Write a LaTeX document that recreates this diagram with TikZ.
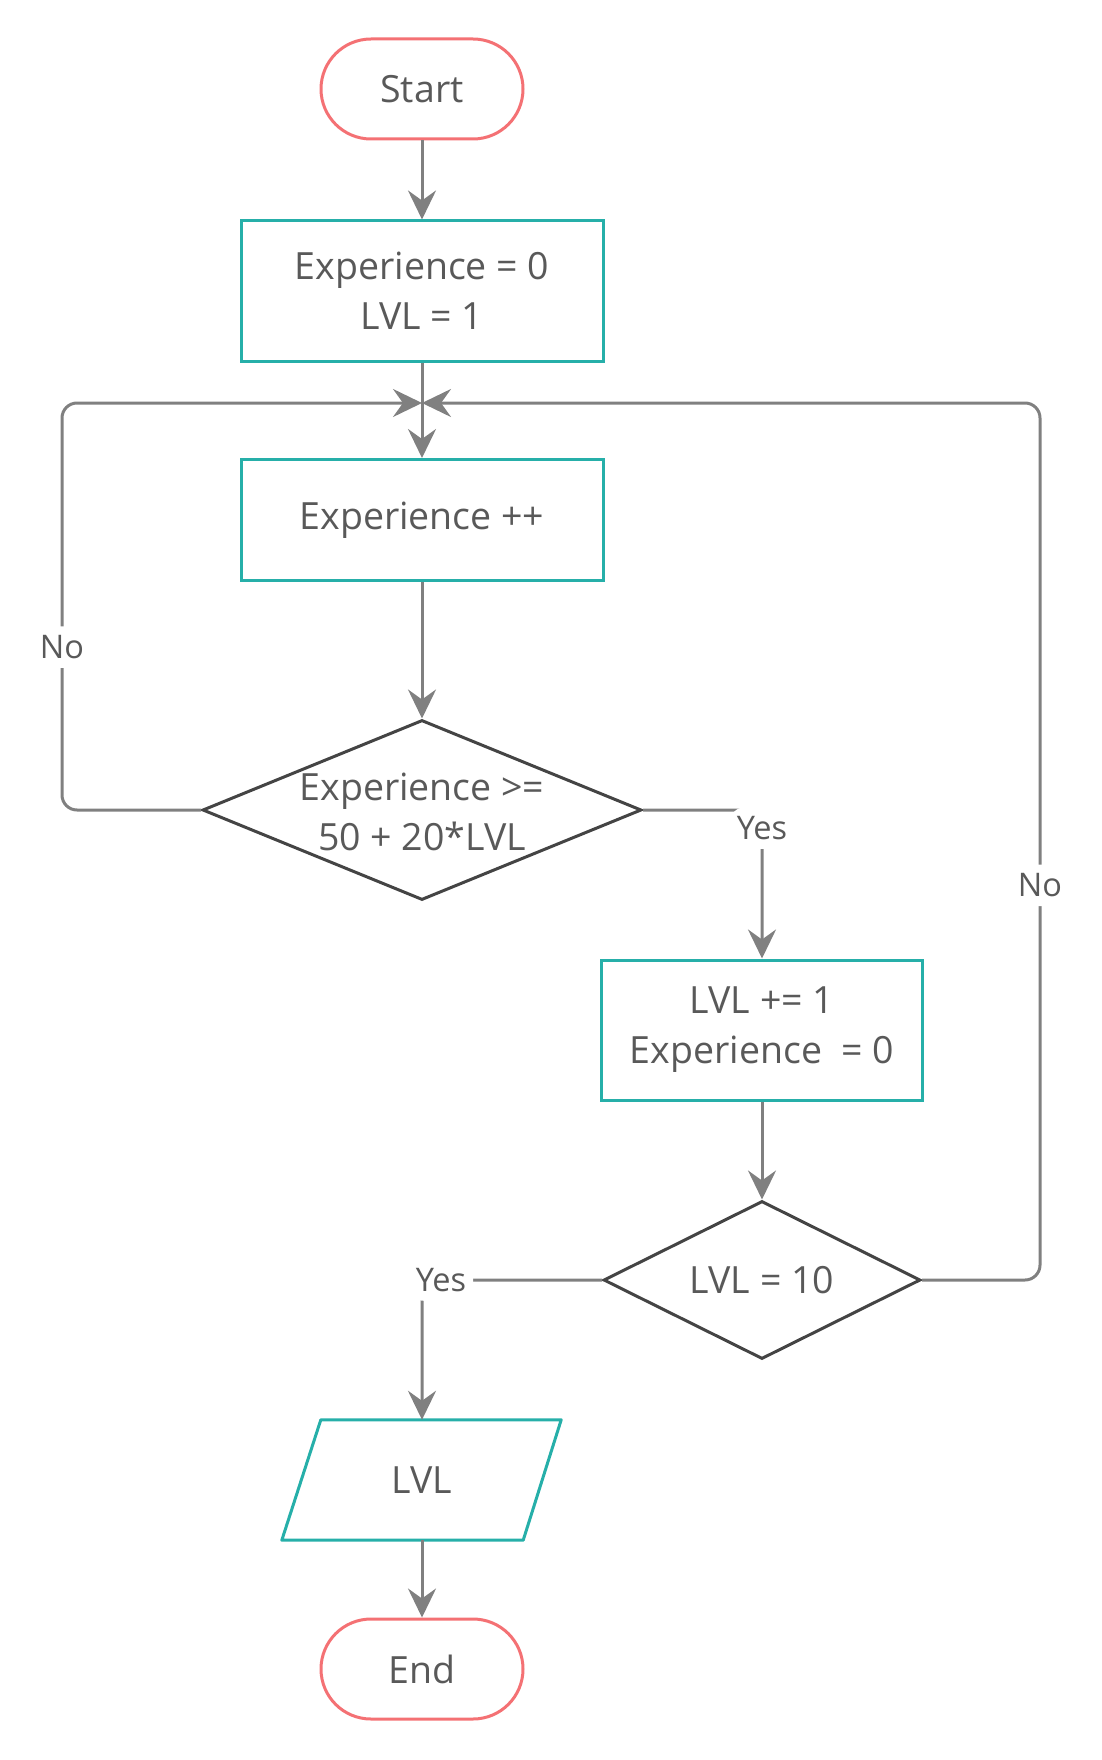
\documentclass[tikz,border=0pt]{standalone}
\usepackage{fontspec}
\setmainfont{Open Sans}
\usetikzlibrary{positioning,calc,shapes.geometric,arrows.meta}
\definecolor{termred}{HTML}{F47174}
\definecolor{boxteal}{HTML}{26AFA9}
\definecolor{condgray}{HTML}{444444}
\definecolor{flowgray}{HTML}{808080}
\definecolor{txtgray}{HTML}{595959}

\begin{document}
\begin{tikzpicture}[x=1pt,y=-1pt,%
      every node/.style={text=txtgray,font=\fontsize{37.5}{50}\selectfont,align=center},%
      terminal/.style={draw=termred,line width=3pt,rounded corners=50pt,minimum width=202pt,minimum height=100pt},%
      process/.style={draw=boxteal,line width=3pt,minimum width=362pt,minimum height=140pt},%
      decision/.style={diamond,draw=condgray,line width=3pt,inner sep=0pt},%
      io/.style={minimum width=241pt,minimum height=120pt,inner sep=0pt},%
      iobox/.style={draw=boxteal,line width=3pt,line join=round},%
      flow/.style={draw=flowgray,line width=3pt,rounded corners=15pt,-{Stealth[length=29pt,width=28pt,inset=10pt]}},%
      lbl/.style={font=\fontsize{32.5}{38}\selectfont,fill=white,inner xsep=7pt,inner ysep=9pt}]
      \useasboundingbox (0,0) rectangle (1102,1760);

      % % Nodes
      \node[terminal] (start) at (422,89) {Start};
      \node[process] (init) at (422,291) {Experience = 0\\LVL = 1};
      \node[process,minimum height=121pt] (incr) at (422,520) {Experience ++};
      \node[decision,minimum width=439pt,minimum height=180pt] (test) at (422,810) {};
      \node (testtxt) at (422,812) {Experience >=\\50 + 20*LVL};
      \node[process,minimum width=321pt] (upd) at (762,1030) {LVL += 1\\Experience~ = 0};
      \node[decision,minimum width=317pt,minimum height=158pt] (check) at (762,1280) {};
      \node (checktxt) at (check) {LVL = 10};
      \node[io] (out) at (422,1480) {LVL};
      \draw[iobox] ($(out.north west)+(19.5,0)$) -- ($(out.north east)+(18.5,0)$)
        -- ($(out.south east)+(-19.5,0)$) -- ($(out.south west)+(-19.5,0)$) -- cycle;
      \node[terminal] (stop) at (422,1669) {End};

      % % Loop points
      \coordinate (join) at (422,403);
      \coordinate (joinL) at (62,403);
      \coordinate (joinR) at (1040,403);

      % % Connectors
      \draw[flow] (start) -- (init);
      \draw[flow] (init) -- (incr);
      \draw[flow] (incr) -- (test);
      \draw[flow] (test.west) -| node[lbl,pos=0.7] (no1) {No} (joinL) -- (join);
      \draw[flow] (test.east) -| node[lbl,pos=0.5,yshift=-18pt] (yes1) {Yes} (upd);
      \draw[flow] (upd) -- (check);
      \draw[flow] (check.east) -| node[lbl,pos=0.725] (no2) {No} (joinR) -- (join);
      \draw[flow] (check.west) -| node[lbl,pos=0.5,xshift=19pt] (yes2) {Yes} (out);
      \draw[flow] (out) -- (stop);
  \end{tikzpicture}
\end{document}
